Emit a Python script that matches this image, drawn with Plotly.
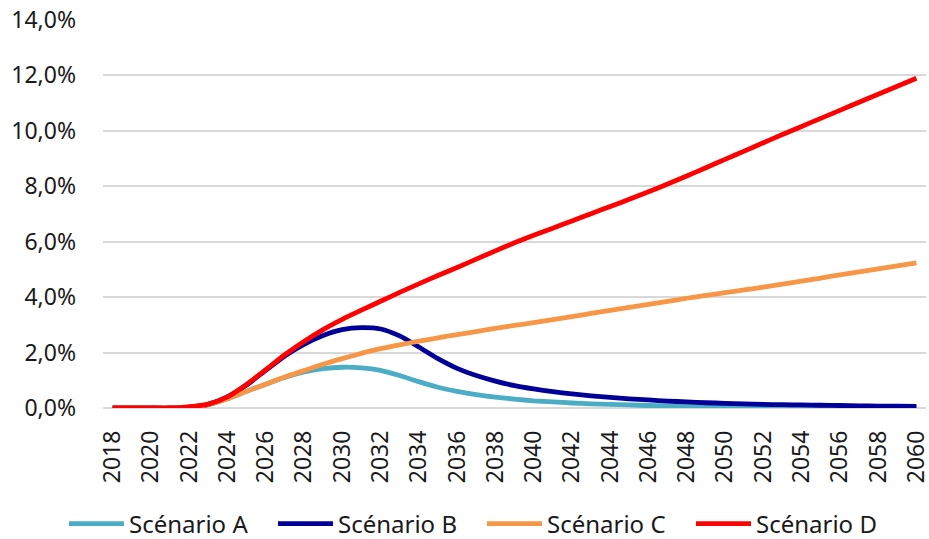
import plotly.graph_objects as go

years = list(range(2018, 2061))

scenario_a = [0, 0, 0, 0, 0.03, 0.12, 0.33, 0.6, 0.86, 1.1, 1.3, 1.42, 1.47, 1.45, 1.36, 1.17, 0.95,
              0.75, 0.6, 0.48, 0.39, 0.32, 0.26, 0.22, 0.18, 0.15, 0.13, 0.11, 0.09, 0.08, 0.07,
              0.06, 0.05, 0.045, 0.04, 0.035, 0.03, 0.027, 0.024, 0.021, 0.019, 0.017, 0.015]
scenario_b = [0, 0, 0, 0, 0.03, 0.13, 0.4, 0.83, 1.36, 1.88, 2.3, 2.62, 2.83, 2.9, 2.85, 2.6, 2.2,
              1.78, 1.43, 1.17, 0.97, 0.81, 0.69, 0.59, 0.51, 0.44, 0.38, 0.33, 0.29, 0.25, 0.22,
              0.19, 0.17, 0.15, 0.13, 0.12, 0.11, 0.1, 0.09, 0.08, 0.07, 0.065, 0.06]
scenario_c = [0, 0, 0, 0, 0.03, 0.12, 0.33, 0.6, 0.86, 1.12, 1.35, 1.58, 1.78, 1.97, 2.14, 2.28, 2.41,
              2.53, 2.65, 2.76, 2.87, 2.98, 3.08, 3.19, 3.3, 3.41, 3.52, 3.63, 3.74, 3.85, 3.96,
              4.06, 4.16, 4.26, 4.36, 4.47, 4.58, 4.69, 4.8, 4.91, 5.02, 5.13, 5.24]
scenario_d = [0, 0, 0, 0, 0.04, 0.14, 0.4, 0.85, 1.38, 1.92, 2.4, 2.83, 3.2, 3.53, 3.85, 4.17, 4.48,
              4.78, 5.07, 5.37, 5.67, 5.96, 6.23, 6.49, 6.75, 7.01, 7.27, 7.53, 7.8, 8.08, 8.37,
              8.67, 8.97, 9.27, 9.57, 9.87, 10.16, 10.45, 10.74, 11.03, 11.32, 11.61, 11.9]

names = ["Scénario A", "Scénario B", "Scénario C", "Scénario D"]
colors = ["#4BACC6", "#000099", "#F79646", "#FF0000"]
series = [scenario_a, scenario_b, scenario_c, scenario_d]

y_ticks = [0, 2, 4, 6, 8, 10, 12, 14]
y_ticktext = ["0,0%", "2,0%", "4,0%", "6,0%", "8,0%", "10,0%", "12,0%", "14,0%"]
x_ticks = list(range(2018, 2061, 2))

FONT = "'Noto Sans', 'Open Sans', sans-serif"

fig = go.Figure()
for name, color, vals in zip(names, colors, series):
    fig.add_trace(go.Scatter(x=years, y=vals, name=name, mode="lines",
                             line=dict(color=color, width=4.8, shape="spline", smoothing=0.6)))

fig.update_layout(
    width=929, height=539,
    margin=dict(l=103, r=3, t=20, b=131, autoexpand=False),
    paper_bgcolor="white", plot_bgcolor="white",
    font=dict(family=FONT, size=23, color="#1a1a1a"),
    showlegend=True,
    legend=dict(orientation="h", xref="paper", yref="paper",
                x=-0.0474, xanchor="left", y=-0.299, yanchor="middle",
                font=dict(size=24), itemwidth=55,
                entrywidth=139, entrywidthmode="pixels",
                traceorder="normal"),
    xaxis=dict(range=[2017.5, 2060.5], tickmode="array", tickvals=x_ticks,
               ticktext=[str(v) for v in x_ticks], tickangle=-90,
               showgrid=False, zeroline=False, showline=False, ticks="",
               tickfont=dict(size=23), ticklabelstandoff=17,
               ticklabeloverflow="allow"),
    yaxis=dict(range=[0, 14], tickmode="array", tickvals=y_ticks, ticktext=y_ticktext,
               showgrid=True, gridcolor="#D9D9D9", gridwidth=1.5,
               zeroline=True, zerolinecolor="#D9D9D9", zerolinewidth=1.5,
               showline=False, ticks="", tickfont=dict(size=23),
               ticklabelstandoff=26),
)

fig.write_html("out.html", config={"displayModeBar": False},
               post_script="document.body.style.margin='0';")
